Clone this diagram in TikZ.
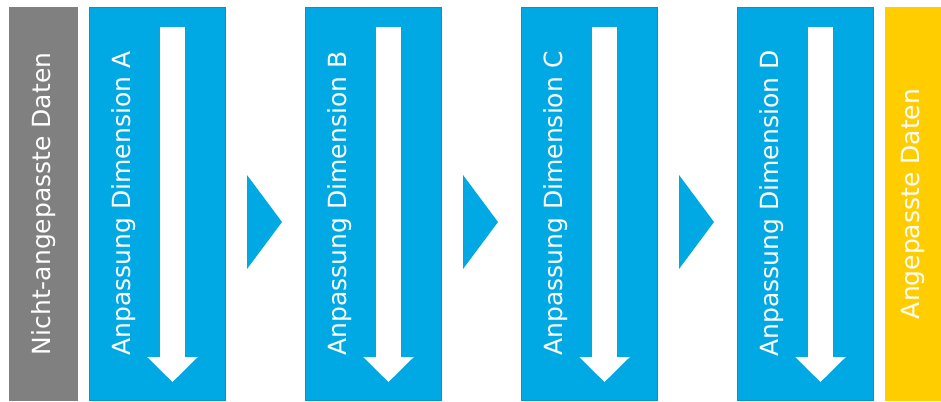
\documentclass[tikz,border=0pt]{standalone}
\usepackage{fontspec}
\setmainfont{DejaVu Sans}
\usepackage{tikz}
\usetikzlibrary{arrows.meta,positioning,calc}

\definecolor{stepblue}{RGB}{0,168,228}
\definecolor{stepedge}{RGB}{0,150,205}
\definecolor{rawgray}{RGB}{128,128,128}
\definecolor{doneyellow}{RGB}{255,205,0}

\tikzset{
  dimbox/.style={fill=stepblue,draw=stepedge,line width=1pt,minimum width=136pt,minimum height=393pt,inner sep=0pt},
  dimtext/.style={rotate=90,text=white,font=\fontsize{25}{30}\selectfont},
  downarrow/.style={white,line width=25pt,-{Triangle[width=49pt,length=25pt]}},
  chevron/.style={fill=stepblue}
}

\begin{document}
\begin{tikzpicture}[x=1pt,y=-1pt]
  \useasboundingbox (0,0) rectangle (941,401);
  % input and output columns
  \node[fill=rawgray,minimum width=69pt,minimum height=394pt,inner sep=0pt] (raw) at (43.5,204) {};
  \node[dimtext] (rawlab) at (raw.center) {Nicht-angepasste Daten};
  \node[fill=doneyellow,minimum width=56pt,minimum height=394pt,inner sep=0pt] (done) at (913,204) {};
  \node[dimtext] (donelab) at (done.center) {Angepasste Daten};
  % adjustment steps
  \node[dimbox] (dimA) at (157,204) {};
  \node[dimbox] (dimB) at (373,204) {};
  \node[dimbox] (dimC) at (589,204) {};
  \node[dimbox] (dimD) at (805,204) {};
  \node[dimtext] (labA) at (124,203.5) {Anpassung Dimension A};
  \node[dimtext] (labB) at (340,203.5) {Anpassung Dimension B};
  \node[dimtext] (labC) at (556,203.5) {Anpassung Dimension C};
  \node[dimtext] (labD) at (772,203.5) {Anpassung Dimension D};
  % white arrows inside the steps
  \draw[downarrow] (172.5,27) -- (172.5,382);
  \draw[downarrow] (388.5,27) -- (388.5,382);
  \draw[downarrow] (604.5,27) -- (604.5,382);
  \draw[downarrow] (820.5,27) -- (820.5,382);
  % chevrons between the steps
  \fill[chevron] (247,175) -- (282,222) -- (247,269) -- cycle;
  \fill[chevron] (463,175) -- (498,222) -- (463,269) -- cycle;
  \fill[chevron] (679,175) -- (714,222) -- (679,269) -- cycle;
\end{tikzpicture}
\end{document}
